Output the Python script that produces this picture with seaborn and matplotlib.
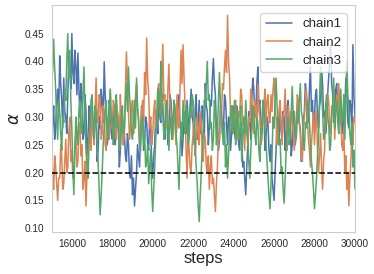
import numpy as np
import matplotlib.pyplot as plt
import seaborn as sns

sns.set_style('whitegrid')
plt.rcParams['font.family'] = ['Liberation Sans', 'DejaVu Sans']

steps = np.arange(15000, 30001, 50)

chain1 = [
    0.25, 0.29, 0.32, 0.26, 0.28, 0.33, 0.35, 0.30, 0.41, 0.36, 0.33, 0.28, 0.37, 0.31, 0.30, 0.27, 0.34, 0.40, 0.39, 0.35,
    0.45, 0.38, 0.36, 0.42, 0.39, 0.34, 0.415, 0.35, 0.30, 0.36, 0.33, 0.26, 0.27, 0.34, 0.31, 0.23, 0.25, 0.32, 0.29, 0.27,
    0.32, 0.28, 0.26, 0.31, 0.30, 0.22, 0.24, 0.30, 0.28, 0.35, 0.33, 0.29, 0.399, 0.34, 0.30, 0.25, 0.27, 0.33, 0.31, 0.27,
    0.26, 0.31, 0.29, 0.25, 0.33, 0.30, 0.28, 0.21, 0.24, 0.29, 0.30, 0.25, 0.27, 0.23, 0.22, 0.27, 0.25, 0.20, 0.19, 0.23,
    0.16, 0.19, 0.14, 0.17, 0.20, 0.25, 0.23, 0.21, 0.27, 0.32, 0.31, 0.24, 0.26, 0.30, 0.29, 0.25, 0.24, 0.30, 0.28, 0.22,
    0.19, 0.23, 0.25, 0.31, 0.30, 0.27, 0.35, 0.30, 0.29, 0.34, 0.32, 0.28, 0.26, 0.32, 0.30, 0.25, 0.28, 0.34, 0.33, 0.29,
    0.27, 0.33, 0.31, 0.26, 0.29, 0.32, 0.34, 0.29, 0.28, 0.23, 0.26, 0.31, 0.30, 0.27, 0.33, 0.30, 0.27, 0.32, 0.35, 0.30,
    0.29, 0.25, 0.31, 0.34, 0.26, 0.29, 0.33, 0.27, 0.28, 0.32, 0.30, 0.26, 0.36, 0.32, 0.31, 0.25, 0.28, 0.33, 0.32, 0.37,
    0.405, 0.36, 0.34, 0.28, 0.29, 0.24, 0.26, 0.32, 0.31, 0.27, 0.28, 0.34, 0.33, 0.29, 0.25, 0.30, 0.29, 0.24, 0.27, 0.32,
    0.31, 0.27, 0.26, 0.32, 0.30, 0.25, 0.24, 0.29, 0.28, 0.21, 0.22, 0.19, 0.16, 0.21, 0.25, 0.31, 0.29, 0.26, 0.33, 0.37,
    0.35, 0.30, 0.31, 0.36, 0.39, 0.32, 0.33, 0.27, 0.28, 0.33, 0.31, 0.24, 0.26, 0.30, 0.29, 0.24, 0.22, 0.25, 0.19, 0.17,
    0.15, 0.20, 0.24, 0.30, 0.28, 0.25, 0.32, 0.28, 0.26, 0.31, 0.30, 0.24, 0.27, 0.32, 0.33, 0.28, 0.29, 0.23, 0.25, 0.31,
    0.30, 0.25, 0.27, 0.32, 0.33, 0.29, 0.28, 0.22, 0.24, 0.29, 0.31, 0.36, 0.34, 0.30, 0.29, 0.35, 0.39, 0.31, 0.33, 0.28,
    0.30, 0.34, 0.35, 0.30, 0.28, 0.32, 0.33, 0.38, 0.36, 0.30, 0.31, 0.27, 0.29, 0.34, 0.37, 0.40, 0.43, 0.36, 0.34, 0.29,
    0.31, 0.35, 0.36, 0.30, 0.29, 0.34, 0.33, 0.28, 0.27, 0.32, 0.31, 0.37, 0.35, 0.29, 0.28, 0.33, 0.32, 0.27, 0.43, 0.34,
    0.30,
]
chain2 = [
    0.24, 0.20, 0.17, 0.23, 0.21, 0.18, 0.15, 0.19, 0.19, 0.25, 0.23, 0.17, 0.18, 0.22, 0.26, 0.20, 0.21, 0.27, 0.30, 0.22,
    0.24, 0.19, 0.20, 0.25, 0.27, 0.21, 0.22, 0.28, 0.29, 0.23, 0.25, 0.17, 0.19, 0.22, 0.14, 0.20, 0.23, 0.27, 0.28, 0.24,
    0.32, 0.27, 0.25, 0.31, 0.37, 0.30, 0.29, 0.34, 0.33, 0.26, 0.27, 0.32, 0.31, 0.25, 0.24, 0.29, 0.30, 0.26, 0.35, 0.30,
    0.28, 0.33, 0.32, 0.27, 0.26, 0.31, 0.30, 0.24, 0.34, 0.29, 0.29, 0.25, 0.27, 0.35, 0.417, 0.36, 0.31, 0.26, 0.28, 0.32,
    0.33, 0.27, 0.29, 0.34, 0.36, 0.31, 0.30, 0.25, 0.27, 0.31, 0.33, 0.29, 0.38, 0.34, 0.442, 0.37, 0.34, 0.28, 0.30, 0.25,
    0.27, 0.31, 0.33, 0.28, 0.29, 0.35, 0.36, 0.30, 0.31, 0.37, 0.431, 0.33, 0.34, 0.29, 0.28, 0.35, 0.395, 0.32, 0.31, 0.26,
    0.26, 0.32, 0.30, 0.25, 0.34, 0.29, 0.28, 0.35, 0.42, 0.36, 0.43, 0.37, 0.32, 0.24, 0.19, 0.27, 0.24, 0.21, 0.20, 0.25,
    0.27, 0.30, 0.23, 0.26, 0.30, 0.27, 0.25, 0.31, 0.29, 0.24, 0.22, 0.27, 0.26, 0.21, 0.20, 0.23, 0.17, 0.21, 0.23, 0.18,
    0.19, 0.16, 0.13, 0.18, 0.21, 0.27, 0.26, 0.31, 0.30, 0.36, 0.35, 0.39, 0.42, 0.38, 0.483, 0.40, 0.37, 0.30, 0.32, 0.27,
    0.28, 0.32, 0.33, 0.27, 0.26, 0.31, 0.30, 0.35, 0.34, 0.29, 0.28, 0.24, 0.31, 0.27, 0.25, 0.30, 0.29, 0.35, 0.33, 0.28,
    0.27, 0.33, 0.31, 0.28, 0.36, 0.31, 0.30, 0.25, 0.26, 0.30, 0.32, 0.35, 0.28, 0.33, 0.34, 0.30, 0.29, 0.34, 0.31, 0.35,
    0.37, 0.32, 0.30, 0.25, 0.27, 0.31, 0.33, 0.28, 0.25, 0.30, 0.31, 0.35, 0.28, 0.24, 0.32, 0.29, 0.26, 0.31, 0.30, 0.27,
    0.24, 0.27, 0.29, 0.34, 0.33, 0.29, 0.27, 0.23, 0.22, 0.28, 0.30, 0.33, 0.35, 0.30, 0.26, 0.24, 0.21, 0.25, 0.28, 0.31,
    0.25, 0.29, 0.31, 0.24, 0.20, 0.23, 0.27, 0.21, 0.17, 0.22, 0.24, 0.30, 0.29, 0.34, 0.33, 0.28, 0.27, 0.32, 0.31, 0.35,
    0.26, 0.31, 0.34, 0.30, 0.36, 0.32, 0.29, 0.25, 0.24, 0.28, 0.20, 0.23, 0.17, 0.20, 0.14, 0.19, 0.22, 0.27, 0.25, 0.30,
    0.29,
]
chain3 = [
    0.427, 0.38, 0.44, 0.39, 0.35, 0.30, 0.26, 0.33, 0.31, 0.27, 0.24, 0.30, 0.29, 0.35, 0.33, 0.40, 0.45, 0.37, 0.42, 0.33,
    0.28, 0.21, 0.16, 0.24, 0.30, 0.27, 0.25, 0.31, 0.33, 0.28, 0.27, 0.34, 0.39, 0.30, 0.24, 0.21, 0.19, 0.25, 0.29, 0.33,
    0.34, 0.29, 0.26, 0.32, 0.31, 0.26, 0.22, 0.17, 0.124, 0.16, 0.20, 0.25, 0.28, 0.31, 0.33, 0.28, 0.26, 0.31, 0.35, 0.29,
    0.30, 0.25, 0.27, 0.32, 0.34, 0.28, 0.29, 0.24, 0.25, 0.30, 0.32, 0.27, 0.28, 0.33, 0.36, 0.31, 0.39, 0.34, 0.31, 0.27,
    0.26, 0.30, 0.33, 0.28, 0.37, 0.32, 0.29, 0.25, 0.24, 0.29, 0.30, 0.25, 0.27, 0.21, 0.22, 0.25, 0.18, 0.21, 0.24, 0.17,
    0.13, 0.17, 0.21, 0.26, 0.29, 0.35, 0.34, 0.30, 0.40, 0.35, 0.31, 0.26, 0.27, 0.32, 0.33, 0.28, 0.24, 0.29, 0.30, 0.26,
    0.28, 0.33, 0.32, 0.27, 0.25, 0.21, 0.17, 0.24, 0.29, 0.26, 0.33, 0.29, 0.27, 0.32, 0.31, 0.25, 0.26, 0.32, 0.30, 0.34,
    0.33, 0.29, 0.25, 0.21, 0.18, 0.14, 0.112, 0.16, 0.20, 0.25, 0.28, 0.33, 0.32, 0.36, 0.40, 0.33, 0.34, 0.28, 0.29, 0.24,
    0.26, 0.33, 0.31, 0.25, 0.27, 0.33, 0.38, 0.32, 0.30, 0.27, 0.25, 0.29, 0.21, 0.25, 0.19, 0.23, 0.27, 0.31, 0.32, 0.27,
    0.29, 0.33, 0.25, 0.29, 0.31, 0.26, 0.27, 0.32, 0.22, 0.26, 0.30, 0.27, 0.33, 0.29, 0.26, 0.22, 0.19, 0.24, 0.28, 0.32,
    0.31, 0.27, 0.25, 0.30, 0.29, 0.24, 0.22, 0.28, 0.27, 0.33, 0.32, 0.28, 0.26, 0.22, 0.19, 0.16, 0.135, 0.18, 0.23, 0.30,
    0.28, 0.33, 0.37, 0.32, 0.30, 0.25, 0.26, 0.20, 0.21, 0.17, 0.145, 0.19, 0.24, 0.28, 0.30, 0.25, 0.27, 0.31, 0.355, 0.30,
    0.31, 0.27, 0.26, 0.31, 0.29, 0.33, 0.36, 0.31, 0.30, 0.26, 0.24, 0.29, 0.28, 0.32, 0.33, 0.29, 0.25, 0.22, 0.20, 0.17,
    0.135, 0.16, 0.19, 0.23, 0.26, 0.33, 0.39, 0.35, 0.31, 0.26, 0.27, 0.32, 0.34, 0.30, 0.29, 0.24, 0.25, 0.30, 0.32, 0.37,
    0.28, 0.32, 0.33, 0.29, 0.27, 0.31, 0.35, 0.29, 0.30, 0.34, 0.26, 0.33, 0.40, 0.34, 0.31, 0.27, 0.25, 0.29, 0.21, 0.24,
    0.17,
]
chains = {'chain1': chain1, 'chain2': chain2, 'chain3': chain3}
true_alpha = 0.2

fig, ax = plt.subplots(figsize=(3.74, 2.74), dpi=100)
fig.subplots_adjust(left=0.138, right=0.949, top=0.982, bottom=0.154)

colors = sns.color_palette('deep')
for i, (name, vals) in enumerate(chains.items()):
    sns.lineplot(x=steps, y=vals, ax=ax, color=colors[i], lw=1.1, label=name)

ax.axhline(true_alpha, color='black', ls='--', lw=1.1, zorder=5)

ax.grid(False)
ax.set_xlim(steps[0], steps[-1])
ax.set_xticks(np.arange(16000, 30001, 2000))
ax.set_yticks(np.arange(0.10, 0.451, 0.05))
ax.tick_params(labelsize=7.2, pad=2)
ax.set_xlabel('steps', fontsize=12, labelpad=1)
ax.set_ylabel(r'$\alpha$', fontsize=12, labelpad=2)
ax.legend(loc='upper right', fontsize=9.5, handlelength=2.0, borderpad=0.4,
          labelspacing=0.45, borderaxespad=0.6)

fig.savefig('out.png', dpi=100)
